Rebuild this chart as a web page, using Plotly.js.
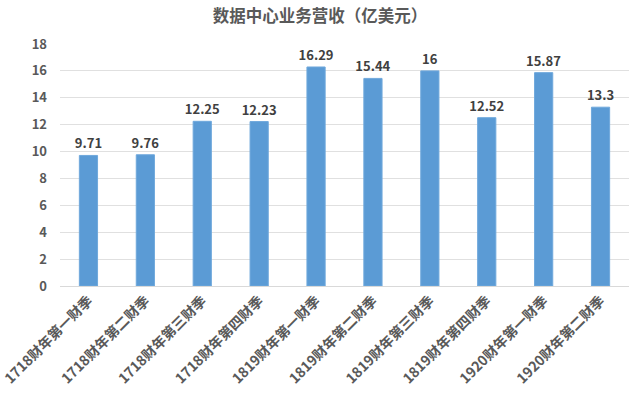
<!DOCTYPE html>
<html><head><meta charset="utf-8">
<script src="https://cdn.plot.ly/plotly-3.0.1.min.js"></script>
<style>html,body{margin:0;padding:0;background:#fff}#c{width:640px;height:396px}</style>
</head><body><div id="c"></div>
<script>
const categories = ["1718财年第一财季","1718财年第二财季","1718财年第三财季","1718财年第四财季","1819财年第一财季","1819财年第二财季","1819财年第三财季","1819财年第四财季","1920财年第一财季","1920财年第二财季"];
const revenue = [9.71, 9.76, 12.25, 12.23, 16.29, 15.44, 16, 12.52, 15.87, 13.3];
const labels = ["9.71","9.76","12.25","12.23","16.29","15.44","16","12.52","15.87","13.3"];
const yTicks = [0,2,4,6,8,10,12,14,16,18];

const font = '"Noto Sans CJK SC", "Liberation Sans", sans-serif';
Plotly.newPlot('c', [{
  type: 'bar', x: categories, y: revenue,
  text: labels, textposition: 'outside', cliponaxis: false, constraintext: 'none',
  textfont: {family: font, size: 13, color: '#404040', weight: 'bold'},
  marker: {color: '#5B9BD5', line: {color: '#6FA8DC', width: 1}},
  hoverinfo: 'none'
}], {
  width: 640, height: 396,
  margin: {l: 60, r: 11, t: 44, b: 110, autoexpand: false},
  paper_bgcolor: '#fff', plot_bgcolor: '#fff',
  title: {text: '数据中心业务营收（亿美元）', x: 0.5, xanchor: 'center', y: 0.96, yanchor: 'middle',
    font: {family: font, size: 16.5, color: '#595959', weight: 'bold'}},
  bargap: 0.68,
  showlegend: false,
  xaxis: {tickangle: -45, tickfont: {family: font, size: 14, color: '#595959', weight: 'bold'},
    showline: true, linecolor: '#D9D9D9', ticks: '', showgrid: false, automargin: false},
  yaxis: {range: [0, 18], tickvals: yTicks, ticktext: yTicks.map(String),
    tickfont: {family: font, size: 13, color: '#595959', weight: 'bold'},
    showgrid: true, gridcolor: '#E0E0E0', zeroline: true, zerolinecolor: '#D0D0D0',
    showline: false, ticks: '', ticklabelstandoff: 12, automargin: false}
}, {displayModeBar: false, staticPlot: true});
</script></body></html>
